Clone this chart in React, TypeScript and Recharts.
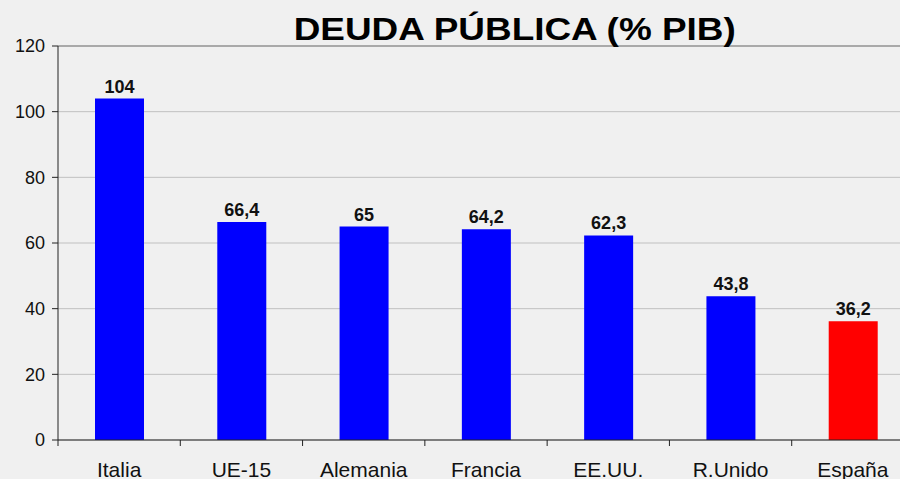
import React from "react";
import { BarChart, Bar, XAxis, YAxis, CartesianGrid, Cell, LabelList, ReferenceLine } from "recharts";

const countries = ["Italia", "UE-15", "Alemania", "Francia", "EE.UU.", "R.Unido", "España"];
const debt = [104, 66.4, 65, 64.2, 62.3, 43.8, 36.2];
const barColors = ["#0000ff", "#0000ff", "#0000ff", "#0000ff", "#0000ff", "#0000ff", "#ff0000"];
const yTicks = [0, 20, 40, 60, 80, 100, 120];

const data = countries.map((c, i) => ({ name: c, value: debt[i] }));

const CHART_W = 916;
const CHART_H = 479;
const Y_W = 58;
const MARGIN_R = 2;
const HALF_BAND = (CHART_W - Y_W - MARGIN_R) / countries.length / 2;
const FONT = "'Liberation Sans', Arial, sans-serif";

const fmt = (v: number) => String(v).replace(".", ",");

const XTick = (props: any) => {
  const { x, y, payload } = props;
  const bx = x - HALF_BAND;
  return (
    <g>
      <line x1={bx} x2={bx} y1={y - 6} y2={y} stroke="#222" strokeWidth={1} />
      <text x={x} y={y + 31} textAnchor="middle" fontSize={21} fontFamily={FONT} fill="#111">
        {payload.value}
      </text>
    </g>
  );
};

export default function App() {
  return (
    <div style={{ position: "absolute", left: 0, top: 0, width: 900, height: 479, overflow: "hidden", background: "#f0f0f0" }}>
      <div style={{ position: "absolute", left: 0, top: 0 }}>
        <BarChart width={CHART_W} height={CHART_H} data={data} margin={{ top: 46, right: MARGIN_R, bottom: 0, left: 0 }}>
          <CartesianGrid vertical={false} stroke="#c0c0c0" />
          <ReferenceLine y={120} stroke="#7a7a7a" />
          <XAxis
            dataKey="name"
            height={39}
            tickSize={6}
            tickMargin={0}
            tickLine={false}
            axisLine={{ stroke: "#222" }}
            tick={<XTick />}
            interval={0}
          />
          <YAxis
            width={Y_W}
            domain={[0, 120]}
            ticks={yTicks}
            tickSize={6}
            tickMargin={7}
            axisLine={{ stroke: "#222" }}
            tickLine={{ stroke: "#222" }}
            tick={{ fontSize: 18, fontFamily: FONT, fill: "#111" }}
            interval={0}
          />
          <Bar dataKey="value" barSize={49} isAnimationActive={false}>
            {data.map((d, i) => (
              <Cell key={d.name} fill={barColors[i]} />
            ))}
            <LabelList
              dataKey="value"
              position="top"
              offset={6}
              formatter={(v: any) => fmt(v)}
              style={{ fontSize: 18, fontWeight: "bold", fontFamily: FONT, fill: "#111" }}
            />
          </Bar>
        </BarChart>
      </div>
      <div
        style={{
          position: "absolute",
          left: 0,
          top: 12,
          width: 1030,
          textAlign: "center",
          fontFamily: FONT,
          fontWeight: "bold",
          fontSize: 31,
          lineHeight: "36px",
          color: "#000",
          whiteSpace: "nowrap",
        }}
      >
        <span style={{ display: "inline-block", transform: "scaleX(1.19)", transformOrigin: "center" }}>
          DEUDA PÚBLICA (% PIB)
        </span>
      </div>
    </div>
  );
}
